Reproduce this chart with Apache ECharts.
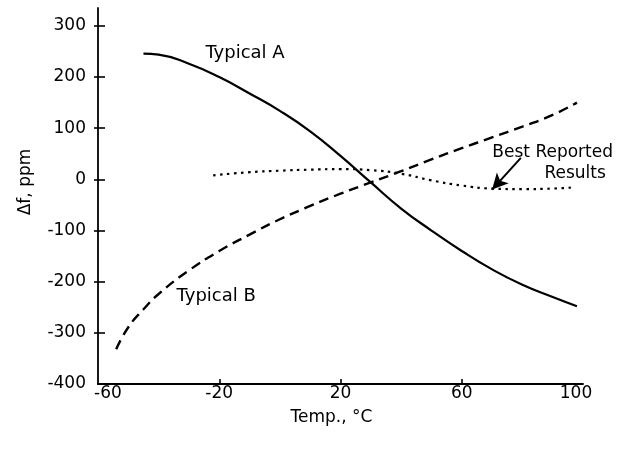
<!DOCTYPE html>
<html><head><meta charset="utf-8">
<script src="https://cdn.jsdelivr.net/npm/echarts@6/dist/echarts.min.js"></script>
<style>html,body{margin:0;padding:0;background:#fff}#c{width:628px;height:451px}</style>
</head><body><div id="c"></div>
<script>
const xTickLabels = [-60, -20, 20, 60, 100];
const xInnerTicks = [-20, 20, 60];
const yTickLabels = [-400, -300, -200, -100, 0, 100, 200, 300];
const yCrossTicks = [-300, -200, -100, 0, 100, 200, 300];

const typicalA = [[-45,246],[-40,244],[-30,226],[-20,200],[-10,168],[0,134],[10,94],[20,46],[30,-6],[40,-57],[50,-100],[60,-140],[70,-176],[80,-206],[90,-230],[98,-248]];
const typicalB = [[-54,-332],[-50,-289],[-45,-254],[-40,-224],[-30,-178],[-20,-140],[-10,-108],[0,-78],[10,-52],[20,-28],[30,-6],[40,16],[50,39],[60,61],[70,82],[80,103],[90,126],[98,150]];
const bestReported = [[-22,8],[-10,14],[0,17],[10,19],[20,20],[30,18],[40,11],[50,-2],[60,-12],[70,-18],[80,-19],[90,-18],[96,-16]];

const labelA = {name: 'Typical A', coord: [-11.5, 247]};
const labelB = {name: 'Typical B', coord: [-21, -228]};
const labelBest1 = {name: 'Best Reported', coord: [90, 53]};
const labelBest2 = {name: 'Results', coord: [97.4, 12]};
const arrowFrom = [79.5, 42];
const arrowTo = [70, -20];

const FONT = 'DejaVu Sans';
const txt = {color: '#000', fontFamily: FONT, fontSize: 17};

function textPoint(p, size) {
  return {name: p.name, coord: p.coord, symbol: 'circle', symbolSize: 1,
    itemStyle: {color: 'rgba(0,0,0,0)'},
    label: {show: true, position: 'inside', formatter: '{b}', color: '#000', fontFamily: FONT, fontSize: size || 17}};
}

const chart = echarts.init(document.getElementById('c'));
chart.setOption({
  backgroundColor: '#fff',
  animation: false,
  grid: {left: 98, right: 45, top: 8, bottom: 67},
  xAxis: {
    type: 'value', min: -60, max: 100, interval: 40,
    axisLine: {show: true, onZero: false, lineStyle: {color: '#000', width: 1.8}},
    axisTick: {show: true, inside: true, length: 5, customValues: xInnerTicks, lineStyle: {color: '#000', width: 1.6}},
    axisLabel: Object.assign({customValues: xTickLabels, margin: 1,
      formatter: v => v === -60 ? '{l|-60}' : (v === 100 ? '{r|100}' : String(v)),
      rich: {l: {padding: [0, 0, 0, 20], fontFamily: FONT, fontSize: 17, color: '#000'},
             r: {padding: [0, 14, 0, 0], fontFamily: FONT, fontSize: 17, color: '#000'}}}, txt),
    splitLine: {show: false},
    name: 'Temp., °C', nameLocation: 'middle', nameGap: 25,
    nameTextStyle: Object.assign({padding: [0, 18, 0, 0]}, txt)
  },
  yAxis: [{
    type: 'value', min: -400, max: 335, interval: 100,
    axisLine: {show: true, onZero: false, lineStyle: {color: '#000', width: 1.8}},
    axisTick: {show: true, inside: false, length: 4, customValues: yCrossTicks, lineStyle: {color: '#000', width: 1.6}},
    axisLabel: Object.assign({customValues: yTickLabels, margin: 12,
      formatter: v => (v % 100 === 0 ? String(v) : '')}, txt),
    splitLine: {show: false},
    name: 'Δf, ppm', nameLocation: 'middle', nameGap: 64, nameRotate: 90,
    nameTextStyle: Object.assign({padding: [0, 0, 0, 28]}, txt)
  }, {
    type: 'value', min: -400, max: 335, interval: 100, position: 'left',
    axisLine: {show: false, onZero: false},
    axisTick: {show: true, inside: true, length: 7, customValues: yCrossTicks, lineStyle: {color: '#000', width: 1.6}},
    axisLabel: {show: false},
    splitLine: {show: false}
  }],
  series: [{
    name: 'Typical A', type: 'line', data: typicalA, smooth: 0.5, symbol: 'none',
    lineStyle: {color: '#000', width: 2.2, type: 'solid'},
    markPoint: {silent: true, data: [textPoint(labelA, 18)]}
  }, {
    name: 'Typical B', type: 'line', data: typicalB, smooth: 0.5, symbol: 'none',
    lineStyle: {color: '#000', width: 2.4, type: [10, 6]},
    markPoint: {silent: true, data: [textPoint(labelB, 18)]}
  }, {
    name: 'Best Reported Results', type: 'line', data: bestReported, smooth: 0.5, symbol: 'none',
    lineStyle: {color: '#000', width: 2.2, type: [2.5, 4.5]},
    markPoint: {silent: true, data: [textPoint(labelBest1), textPoint(labelBest2)]},
    markLine: {silent: true, symbol: ['none', 'arrow'], symbolSize: [12, 16], label: {show: false},
      lineStyle: {color: '#000', width: 2, type: 'solid'},
      data: [[{coord: arrowFrom}, {coord: arrowTo}]]}
  }]
});
</script></body></html>
